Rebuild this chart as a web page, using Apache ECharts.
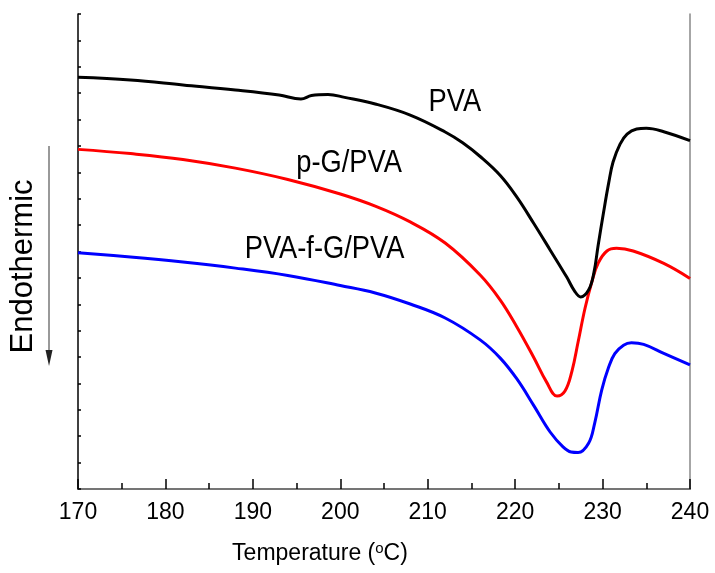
<!DOCTYPE html>
<html>
<head>
<meta charset="utf-8">
<script src="https://cdn.jsdelivr.net/npm/echarts@6/dist/echarts.min.js"></script>
<style>
  html, body { margin: 0; padding: 0; background: #fff; }
  #chart { width: 715px; height: 573px; }
</style>
</head>
<body>
<div id="chart"></div>
<script>
// DSC 曲线数据 (温度 °C, 热流 任意单位)
const tempPVA = [170, 176, 182, 188, 193, 195.5, 196.7, 198.6, 200.5, 204, 208, 212, 214, 216, 218.3, 220.2, 222.1, 224, 225.9, 226.8, 227.5, 228.4, 229, 229.5, 230.1, 230.7, 231.2, 232, 232.8, 233.9, 235, 237, 240];
const heatPVA = [15.60, 15.50, 15.31, 15.12, 14.93, 14.78, 14.91, 14.95, 14.84, 14.59, 14.17, 13.53, 13.12, 12.60, 11.88, 11.06, 10.08, 9.06, 8.03, 7.50, 7.28, 7.54, 8.18, 9.25, 10.46, 11.60, 12.39, 13.07, 13.45, 13.64, 13.67, 13.54, 13.20];

const tempPG = [170, 176, 182, 188, 194, 200, 204, 208, 212, 216, 218.3, 220.2, 222.1, 223.6, 224.8, 225.7, 226.5, 227.2, 228, 228.8, 229.5, 230.5, 231.6, 233.5, 237, 240];
const heatPG = [12.87, 12.71, 12.49, 12.16, 11.73, 11.18, 10.72, 10.12, 9.32, 8.11, 7.16, 6.14, 5.00, 4.05, 3.52, 3.71, 4.47, 5.57, 6.86, 7.88, 8.56, 9.02, 9.12, 9.02, 8.55, 7.98];

const tempPF = [170, 176, 182, 188, 194, 200, 204, 208, 212, 216, 218.3, 220.2, 222.1, 224, 225.5, 226.4, 227.2, 228.4, 229.1, 229.9, 230.7, 231.4, 232.4, 233.3, 234.7, 237, 240];
const heatPF = [8.95, 8.79, 8.60, 8.37, 8.09, 7.71, 7.43, 7.01, 6.48, 5.65, 4.96, 4.17, 3.18, 2.16, 1.59, 1.40, 1.38, 1.73, 2.50, 3.75, 4.62, 5.13, 5.45, 5.54, 5.48, 5.14, 4.70];

const seriesNames = ['PVA', 'p-G/PVA', 'PVA-f-G/PVA'];
const seriesColors = ['#000000', '#ff0000', '#0000ff'];
// 曲线标注的位置 (数据坐标)
const labelAnchors = [[213.1, 14.63], [201.0, 12.32], [198.2, 9.09]];

const FONT = "'Liberation Sans', Arial, sans-serif";

const zip = (xs, ys) => xs.map((x, i) => [x, ys[i]]);
const curves = [zip(tempPVA, heatPVA), zip(tempPG, heatPG), zip(tempPF, heatPF)];

const chart = echarts.init(document.getElementById('chart'));

const option = {
    animation: false,
    backgroundColor: '#fff',
    grid: { left: 78, right: 25, top: 14, bottom: 84 },
    xAxis: [{
        type: 'value',
        min: 170, max: 240, interval: 10,
        position: 'bottom',
        name: '{a|Temperature (}{s|o}{a|C)}',
        nameLocation: 'middle',
        nameGap: 52,
        nameTextStyle: {
            padding: [0, 128, 0, 0],
            rich: {
                a: { fontFamily: FONT, fontSize: 23, color: '#000' },
                s: { fontFamily: FONT, fontSize: 15, color: '#000', padding: [0, 0, 10, 0] }
            }
        },
        axisLine: { lineStyle: { color: '#000', width: 1.5 } },
        axisTick: { inside: true, length: 10, lineStyle: { color: '#000', width: 1.5 } },
        minorTick: { show: true, splitNumber: 2, length: 6, lineStyle: { color: '#000', width: 1.5 } },
        axisLabel: { color: '#000', fontFamily: FONT, fontSize: 23, margin: 12 },
        splitLine: { show: false }
    }, {
        type: 'value',
        min: 170, max: 240,
        position: 'top',
        axisLine: { lineStyle: { color: '#888', width: 1.5 } },
        axisTick: { show: false },
        axisLabel: { show: false },
        splitLine: { show: false }
    }],
    yAxis: [{
        type: 'value',
        min: 0, max: 18, interval: 1,
        position: 'left',
        name: 'Endothermic',
        nameLocation: 'middle',
        nameRotate: 90,
        nameGap: 39,
        nameTextStyle: { fontFamily: FONT, fontSize: 31, color: '#000', padding: [0, 30, 0, 0] },
        axisLine: { show: true, lineStyle: { color: '#000', width: 1.5 } },
        axisTick: { show: true, inside: true, length: 3, lineStyle: { color: '#000', width: 1.5 } },
        axisLabel: { show: false },
        splitLine: { show: false }
    }, {
        type: 'value',
        min: 0, max: 18,
        position: 'right',
        axisLine: { show: true, lineStyle: { color: '#888', width: 1.5 } },
        axisTick: { show: false },
        axisLabel: { show: false },
        splitLine: { show: false }
    }],
    series: curves.map((data, i) => ({
        name: seriesNames[i],
        type: 'line',
        data: data,
        smooth: 0.4,
        showSymbol: false,
        lineStyle: { color: seriesColors[i], width: 3 },
        z: 3 - i
    }))
};

chart.setOption(option);

// 曲线名称标注 (略窄的字形) + 吸热方向箭头
const graphics = labelAnchors.map((p, i) => {
    const [x, y] = chart.convertToPixel({ xAxisIndex: 0, yAxisIndex: 0 }, p);
    return {
        type: 'text',
        x: x, y: y,
        scaleX: 0.88,
        style: {
            text: seriesNames[i],
            fontFamily: FONT,
            fontSize: 31,
            fill: '#000',
            align: 'center',
            verticalAlign: 'middle'
        }
    };
});
graphics.push({
    type: 'line',
    shape: { x1: 49, y1: 146, x2: 49, y2: 356 },
    style: { stroke: '#777', lineWidth: 1.5 }
});
graphics.push({
    type: 'polygon',
    shape: { points: [[45.5, 350], [52.5, 350], [49, 366]] },
    style: { fill: '#222' }
});
chart.setOption({ graphic: graphics });
</script>
</body>
</html>
